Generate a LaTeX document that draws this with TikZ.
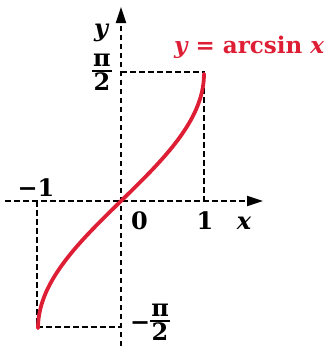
\documentclass[tikz,border=0pt]{standalone}
\usepackage{fontspec}
\setmainfont{DejaVu Serif}
\usetikzlibrary{arrows.meta}
\definecolor{mred}{RGB}{222,30,52}
\newcommand\myfrac[2]{{\setlength\arrayrulewidth{1.5pt}\renewcommand\arraystretch{0.9}\begin{tabular}{@{\hspace{1pt}}c@{\hspace{1pt}}}#1\\[-4pt]\hline\rule{0pt}{19pt}#2\end{tabular}}}
\begin{document}
\begin{tikzpicture}[x=1pt,y=-1pt,
  guide/.style={draw=black,line width=1.8pt,dash pattern=on 5.5pt off 3.5pt},
  axis/.style={guide,-{Triangle[length=16pt,width=10pt]}},
  lbl/.style={font=\fontsize{24}{27}\selectfont\bfseries,inner sep=0pt},
  curve/.style={draw=mred,line width=3.8pt,line cap=round}]
\useasboundingbox (0,0) rectangle (332,346);
\coordinate (O) at (121,201);
\coordinate (xs) at (5,201);
\coordinate (xe) at (263,201);
\coordinate (ys) at (121,346);
\coordinate (ye) at (121,7);
\coordinate (T) at (204,72);
\coordinate (Ty) at (121,72);
\coordinate (Tx) at (204,201);
\coordinate (B) at (37,327);
\coordinate (By) at (121,327);
\coordinate (Bx) at (37,201);
\draw[axis] (xs) -- (xe);
\draw[axis] (ys) -- (ye);
\draw[guide] (Ty) -- (T) -- (Tx);
\draw[guide] (Bx) -- (B) -- (By);
\draw[curve] plot[domain=-1.5708:1.5708,samples=80,variable=\t]
  ({121+83*sin(\t r)},{201-81*\t});
\node[lbl,anchor=base] (ylab) at (101,36) {\itshape y};
\node[lbl] (pi2) at (102,74) {\myfrac{π}{2}};
\node[lbl,anchor=base] (m1) at (36,196) {−1};
\node[lbl,anchor=base] (zero) at (139.5,229) {0};
\node[lbl,anchor=base] (one) at (205,229) {1};
\node[lbl,anchor=base] (xlab) at (244,229) {\itshape x};
\node[lbl] (mpi2) at (150,324) {−\myfrac{π}{2}};
\node[lbl,text=mred,anchor=base west,font=\fontsize{23}{26}\selectfont\bfseries] (fn) at (174,53) {\itshape y\upshape\ = arcsin \itshape x};
\end{tikzpicture}
\end{document}
